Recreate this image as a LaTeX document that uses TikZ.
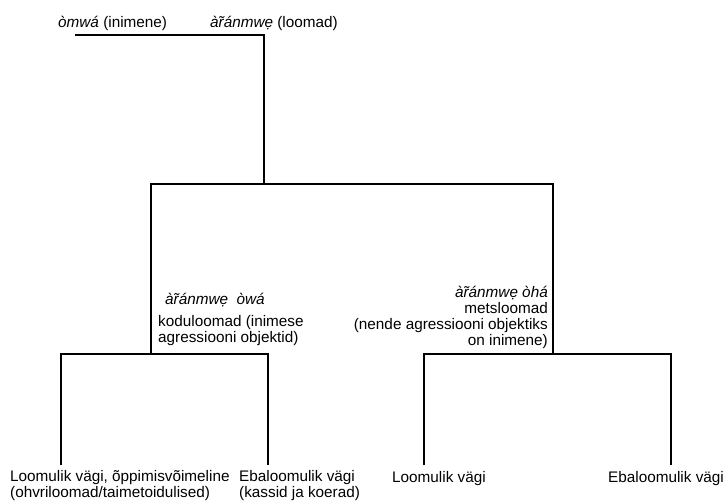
\documentclass[tikz,border=0pt]{standalone}
\usepackage{fontspec}
\setmainfont{Liberation Sans}
\usetikzlibrary{positioning,calc}
\tikzstyle{l1}=[line width=1.6]
\tikzstyle{lbl}=[inner sep=0pt, font=\fontsize{15.3}{15.8}\selectfont]
\tikzstyle{leaf}=[lbl, align=left, anchor=base west]
\newcommand{\rtil}{\ooalign{r\cr\hidewidth\char"02DC\hidewidth\cr}}
\newcommand{\arn}{\textit{à\rtil ánmwẹ}}

\begin{document}
\begin{tikzpicture}[x=1pt, y=-1pt]
    \useasboundingbox (0,0) rectangle (724,501);

    % top
    \node (omwa) [lbl, anchor=base west] at (58,27) {\textit{òmwá} (inimene)};
    \node (loomad) [lbl, anchor=base west] at (210,27) {\arn{} (loomad)};
    \coordinate (r0) at (75,35);
    \coordinate (root) at (264,184);
    \draw[l1] (r0) -| (root);

    % second level (base = last line)
    \coordinate (kodu) at (151,354);
    \coordinate (mets) at (553,354);
    \draw[l1] (kodu) |- (root) -| (mets);
    \node (owa) [lbl, anchor=base west] at (165,304) {\arn\ \ \textit{òwá}};
    \node (kodutxt) [leaf] at (158,342) {koduloomad (inimese\\agressiooni objektid)};
    \node (metstxt) [lbl, align=right, anchor=base east] at (548,345)
        {\arn\ \textit{òhá}\\metsloomad\\(nende agressiooni objektiks\\on inimene)};

    % leaves
    \coordinate (la) at (61,465);
    \coordinate (lb) at (268,465);
    \coordinate (lc) at (424,465);
    \coordinate (ld) at (671,465);
    \draw[l1] (la) |- (kodu) -| (lb);
    \draw[l1] (lc) |- (mets) -| (ld);
    \node (vagiA) [leaf] at (10,497) {Loomulik vägi, õppimisvõimeline\\(ohvriloomad/taimetoidulised)};
    \node (vagiB) [leaf] at (239,497) {Ebaloomulik vägi\\(kassid ja koerad)};
    \node (vagiC) [leaf] at (392,482) {Loomulik vägi};
    \node (vagiD) [leaf] at (608,482) {Ebaloomulik vägi};
\end{tikzpicture}
\end{document}
